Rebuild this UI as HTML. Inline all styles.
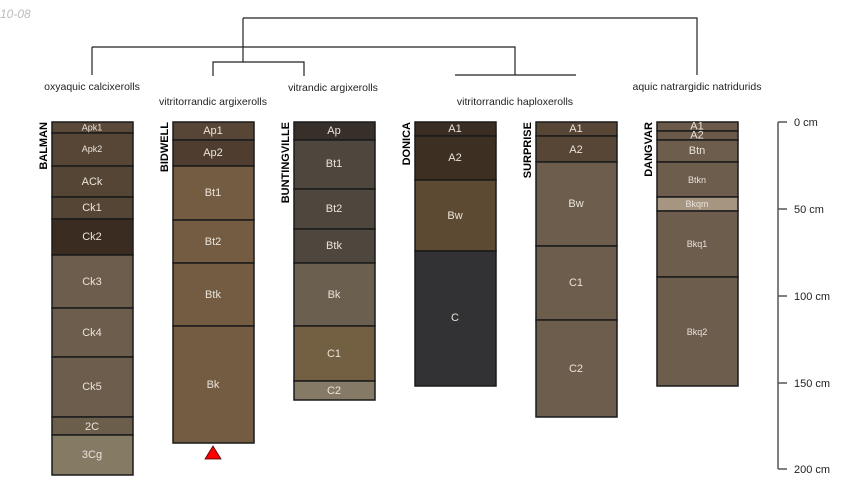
<!DOCTYPE html>
<html><head><meta charset="utf-8"><style>
html,body{margin:0;padding:0;background:#fff;}
svg{display:block;font-family:"Liberation Sans",sans-serif;}
.h{fill:#ebe4dc;font-size:11px;text-anchor:middle;dominant-baseline:central;}
.s{font-size:9px;}
.n{font-size:11px;font-weight:bold;fill:#000;text-anchor:end;}
.l{font-size:10.5px;fill:#222;text-anchor:middle;}
rect{stroke:#1a1a1a;stroke-width:1.5;}
</style></head><body>
<svg width="850" height="500" viewBox="0 0 850 500">
<text x="-4" y="18" font-size="12" font-style="italic" fill="#bbb">-10-08</text>
<g stroke="#222" stroke-width="1.2" fill="none">
<path d="M243 18H697V75M243 18V47M92 47H515V75M92 47V75M243 47V62M213 76V62H304V76M455 75H576"/>
</g>
<text class="l" x="92" y="90">oxyaquic calcixerolls</text>
<text class="l" x="213" y="105">vitritorrandic argixerolls</text>
<text class="l" x="333" y="91">vitrandic argixerolls</text>
<text class="l" x="515" y="105">vitritorrandic haploxerolls</text>
<text class="l" x="697" y="90">aquic natrargidic natridurids</text>

<!-- BALMAN -->
<text class="n" transform="translate(47,122) rotate(-90)">BALMAN</text>
<rect x="52" y="122" width="81" height="11" fill="#5a4838"/><text class="h s" x="92" y="127.5">Apk1</text>
<rect x="52" y="133" width="81" height="33" fill="#574636"/><text class="h s" x="92" y="149">Apk2</text>
<rect x="52" y="166" width="81" height="31" fill="#554535"/><text class="h" x="92" y="182">ACk</text>
<rect x="52" y="197" width="81" height="22" fill="#554535"/><text class="h" x="92" y="208">Ck1</text>
<rect x="52" y="219" width="81" height="36" fill="#3a2c20"/><text class="h" x="92" y="237">Ck2</text>
<rect x="52" y="255" width="81" height="53" fill="#6d5d4d"/><text class="h" x="92" y="282">Ck3</text>
<rect x="52" y="308" width="81" height="49" fill="#6d5d4d"/><text class="h" x="92" y="333">Ck4</text>
<rect x="52" y="357" width="81" height="60" fill="#6d5d4d"/><text class="h" x="92" y="387">Ck5</text>
<rect x="52" y="417" width="81" height="18" fill="#6b5e4b"/><text class="h" x="92" y="427">2C</text>
<rect x="52" y="435" width="81" height="40" fill="#857b65"/><text class="h" x="92" y="455">3Cg</text>

<!-- BIDWELL -->
<text class="n" transform="translate(168,122) rotate(-90)">BIDWELL</text>
<rect x="173" y="122" width="81" height="18" fill="#574636"/><text class="h" x="213" y="131">Ap1</text>
<rect x="173" y="140" width="81" height="26" fill="#4f3e30"/><text class="h" x="213" y="153">Ap2</text>
<rect x="173" y="166" width="81" height="54" fill="#735c42"/><text class="h" x="213" y="193">Bt1</text>
<rect x="173" y="220" width="81" height="43" fill="#735c42"/><text class="h" x="213" y="242">Bt2</text>
<rect x="173" y="263" width="81" height="63" fill="#735c42"/><text class="h" x="213" y="295">Btk</text>
<rect x="173" y="326" width="81" height="117" fill="#735c42"/><text class="h" x="213" y="385">Bk</text>
<polygon points="213,446 205,459 221,459" fill="#f00" stroke="#400" stroke-width="0.8"/>

<!-- BUNTINGVILLE -->
<text class="n" transform="translate(289,122) rotate(-90)">BUNTINGVILLE</text>
<rect x="294" y="122" width="81" height="18" fill="#37302a"/><text class="h" x="334" y="131">Ap</text>
<rect x="294" y="140" width="81" height="49" fill="#4f463e"/><text class="h" x="334" y="164">Bt1</text>
<rect x="294" y="189" width="81" height="40" fill="#4f463e"/><text class="h" x="334" y="209">Bt2</text>
<rect x="294" y="229" width="81" height="34" fill="#4f463e"/><text class="h" x="334" y="246">Btk</text>
<rect x="294" y="263" width="81" height="63" fill="#6b604f"/><text class="h" x="334" y="295">Bk</text>
<rect x="294" y="326" width="81" height="55" fill="#735f42"/><text class="h" x="334" y="354">C1</text>
<rect x="294" y="381" width="81" height="19" fill="#857a66"/><text class="h" x="334" y="391">C2</text>

<!-- DONICA -->
<text class="n" transform="translate(410,122) rotate(-90)">DONICA</text>
<rect x="415" y="122" width="81" height="14" fill="#3a2e24"/><text class="h" x="455" y="129">A1</text>
<rect x="415" y="136" width="81" height="44" fill="#3d2f22"/><text class="h" x="455" y="158">A2</text>
<rect x="415" y="180" width="81" height="71" fill="#5c4a32"/><text class="h" x="455" y="216">Bw</text>
<rect x="415" y="251" width="81" height="135" fill="#323234"/><text class="h" x="455" y="318">C</text>

<!-- SURPRISE -->
<text class="n" transform="translate(531,122) rotate(-90)">SURPRISE</text>
<rect x="536" y="122" width="81" height="14" fill="#574636"/><text class="h" x="576" y="129">A1</text>
<rect x="536" y="136" width="81" height="26" fill="#574636"/><text class="h" x="576" y="150">A2</text>
<rect x="536" y="162" width="81" height="84" fill="#6d5d4d"/><text class="h" x="576" y="204">Bw</text>
<rect x="536" y="246" width="81" height="74" fill="#6d5d4d"/><text class="h" x="576" y="283">C1</text>
<rect x="536" y="320" width="81" height="97" fill="#6d5d4d"/><text class="h" x="576" y="369">C2</text>

<!-- DANGVAR -->
<text class="n" transform="translate(652,122) rotate(-90)">DANGVAR</text>
<rect x="657" y="122" width="81" height="9" fill="#6b5a49"/><text class="h" x="697" y="126.5">A1</text>
<rect x="657" y="131" width="81" height="9" fill="#6b5a49"/><text class="h" x="697" y="135.5">A2</text>
<rect x="657" y="140" width="81" height="22" fill="#6d5d4d"/><text class="h" x="697" y="151">Btn</text>
<rect x="657" y="162" width="81" height="35" fill="#6d5d4d"/><text class="h s" x="697" y="180">Btkn</text>
<rect x="657" y="197" width="81" height="14" fill="#a59581"/><text class="h s" x="697" y="204">Bkqm</text>
<rect x="657" y="211" width="81" height="66" fill="#6d5d4d"/><text class="h s" x="697" y="244">Bkq1</text>
<rect x="657" y="277" width="81" height="109" fill="#6d5d4d"/><text class="h s" x="697" y="332">Bkq2</text>

<!-- scale -->
<g stroke="#555" stroke-width="1.5">
<line x1="778" y1="122" x2="778" y2="469"/>
<line x1="778" y1="122" x2="787" y2="122"/>
<line x1="778" y1="209" x2="787" y2="209"/>
<line x1="778" y1="296" x2="787" y2="296"/>
<line x1="778" y1="383" x2="787" y2="383"/>
<line x1="778" y1="469" x2="787" y2="469"/>
</g>
<g font-size="11" fill="#222">
<text x="794" y="126">0 cm</text>
<text x="794" y="213">50 cm</text>
<text x="794" y="300">100 cm</text>
<text x="794" y="387">150 cm</text>
<text x="794" y="473">200 cm</text>
</g>
</svg>
</body></html>
